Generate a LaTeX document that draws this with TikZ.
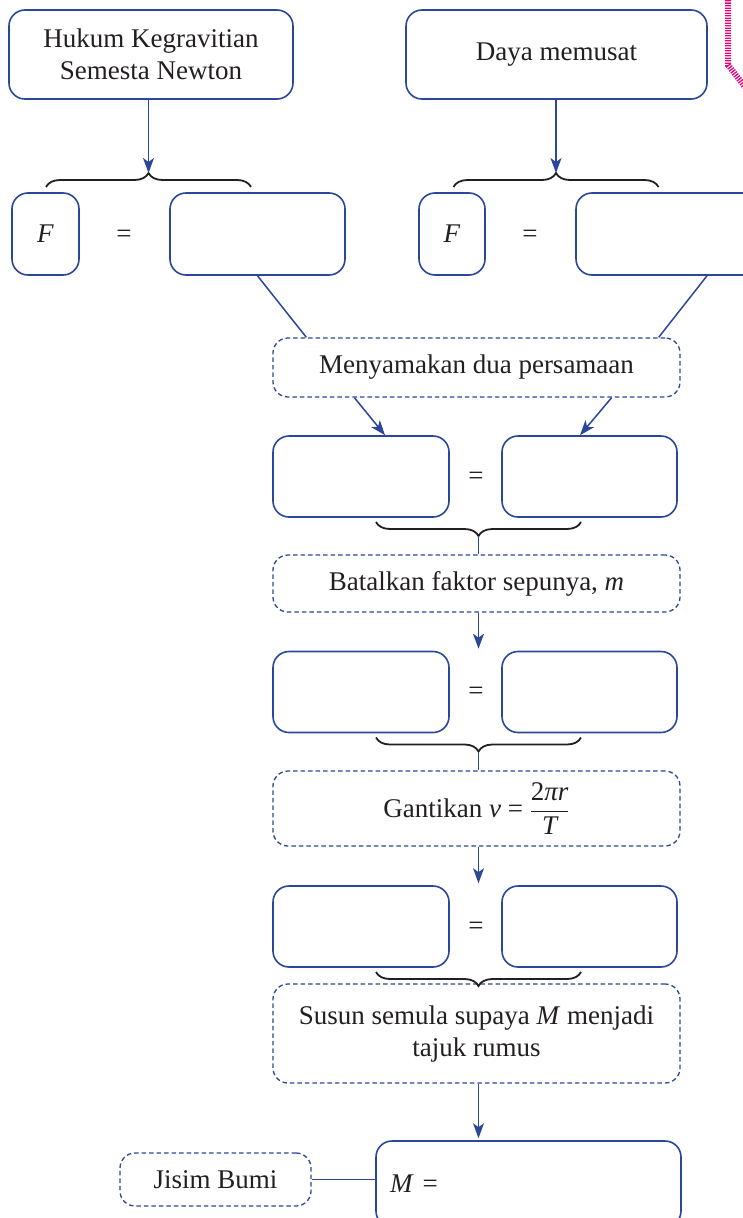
\documentclass[tikz,border=0pt]{standalone}
\usepackage{amsmath}
\usepackage{fontspec}
\setmainfont{Liberation Serif}
\usetikzlibrary{arrows.meta, decorations.pathreplacing}
\definecolor{cblue}{HTML}{2B479A}
\definecolor{cink}{HTML}{231F20}
\definecolor{cpink}{HTML}{E5007D}
\newcommand\bodyfont{\fontsize{27}{32}\selectfont}
\tikzset{
  every picture/.style={line width=1.6pt},
  box/.style={draw=cblue, rounded corners=16pt, align=center, inner sep=0pt, text=cink, font=\bodyfont},
  stepnote/.style={box, rounded corners=15pt, dash pattern=on 4.5pt off 3pt, line width=1.3pt},
  plain/.style={text=cink, font=\bodyfont, inner sep=0pt},
  arrow/.style={-{Stealth[length=15pt, width=11pt, inset=4pt]}, draw=cblue, line width=1.5pt},
  conn/.style={draw=cblue, line width=1.5pt},
  curly/.style={decorate, decoration={brace, amplitude=14pt}, draw=cink, line width=1.8pt},
}
\begin{document}
\begin{tikzpicture}[x=1pt, y=-1pt]
  \useasboundingbox (0,0) rectangle (742,1218);
  % top: the two sources of force
  \node[box, minimum width=284pt, minimum height=89pt] (newton) at (151,54.5) {Hukum Kegravitian\\Semesta Newton};
  \node[box, minimum width=301pt, minimum height=89pt] (centri) at (556.5,54.5) {Daya memusat};
  \node[box, minimum width=67pt, minimum height=82pt] (f1) at (45.5,234) {\textit{F}};
  \node[plain] (eqa) at (124,236) {=};
  \node[box, minimum width=175pt, minimum height=82pt] (blank1) at (257.5,234) {};
  \node[box, minimum width=66pt, minimum height=82pt] (f2) at (452,234) {\textit{F}};
  \node[plain] (eqb) at (530,236) {=};
  \node[box, minimum width=262pt, minimum height=82pt] (blank2) at (707,234) {};
  \coordinate (tl1) at (46,187);
  \coordinate (tr1) at (251,187);
  \coordinate (tt1) at (148.5,173);
  \coordinate (tl2) at (453.5,187);
  \coordinate (tr2) at (658.5,187);
  \coordinate (tt2) at (556,173);
  \draw[curly] (tl1) -- (tr1);
  \draw[curly] (tl2) -- (tr2);
  \draw[arrow] (newton.south -| tt1) -- (tt1);
  \draw[arrow] (centri.south -| tt2) -- (tt2);
  % steps
  \node[stepnote, minimum width=407pt, minimum height=59pt] (same) at (476.5,367.5) {Menyamakan dua persamaan};
  \node[stepnote, minimum width=407pt, minimum height=57pt] (cancel) at (476.5,583.5) {Batalkan faktor sepunya, \textit{m}};
  \node[stepnote, minimum width=407pt, minimum height=75pt] (subst) at (476.5,808.5) {Gantikan \textit{v} = $\dfrac{\textup{2}\textit{πr}}{\textit{T}}$};
  \node[stepnote, minimum width=407pt, minimum height=99pt] (rearr) at (476.5,1033.5) {Susun semula supaya \textit{M} menjadi\\tajuk rumus};
  \foreach \y [count=\k] in {476.5, 692, 926.5} {
    \node[box, minimum width=176pt, minimum height=81pt] (l\k) at (361,\y) {};
    \node[plain] (e\k) at (476,\y+1.5) {=};
    \node[box, minimum width=175pt, minimum height=81pt] (r\k) at (589.5,\y) {};
    \coordinate (bl\k) at (376,\y+45.5);
    \coordinate (br\k) at (581,\y+45.5);
    \coordinate (bt\k) at (478.5,\y+59.5);
    \draw[curly] (br\k) -- (bl\k);
  }
  \draw[conn] (blank1.south) -- ([xshift=34pt]same.north west);
  \draw[conn] (blank2.south) -- ([xshift=-22pt]same.north east);
  \draw[arrow] ([xshift=82pt]same.south west) -- ([xshift=24pt]l1.north);
  \draw[arrow] ([xshift=-69pt]same.south east) -- ([xshift=-9.5pt]r1.north);
  \draw[conn] (bt1) -- (bt1 |- cancel.north);
  \draw[arrow] (cancel.south -| bt1) -- ([yshift=2pt]bt1 |- l2.north);
  \draw[conn] (bt2) -- (bt2 |- subst.north);
  \draw[arrow] (subst.south -| bt2) -- ([yshift=2pt]bt2 |- l3.north);
  % result
  \node[box, minimum height=86pt, text width=277pt, inner xsep=14pt, align=left] (mass) at (528.5,1184) {\textit{M} =};
  \node[stepnote, minimum width=191pt, minimum height=53pt] (earth) at (215.5,1179.5) {Jisim Bumi};
  \draw[arrow] (rearr.south -| bt3) -- ([yshift=2pt]bt3 |- mass.north);
  \draw[conn] (earth.east) -- (earth.east -| mass.west);
  % page edge mark
  \draw[cpink, line width=6pt, dash pattern=on 1.3pt off 1.2pt] (728,-5) -- (728,65) -- (749,92);
\end{tikzpicture}
\end{document}
